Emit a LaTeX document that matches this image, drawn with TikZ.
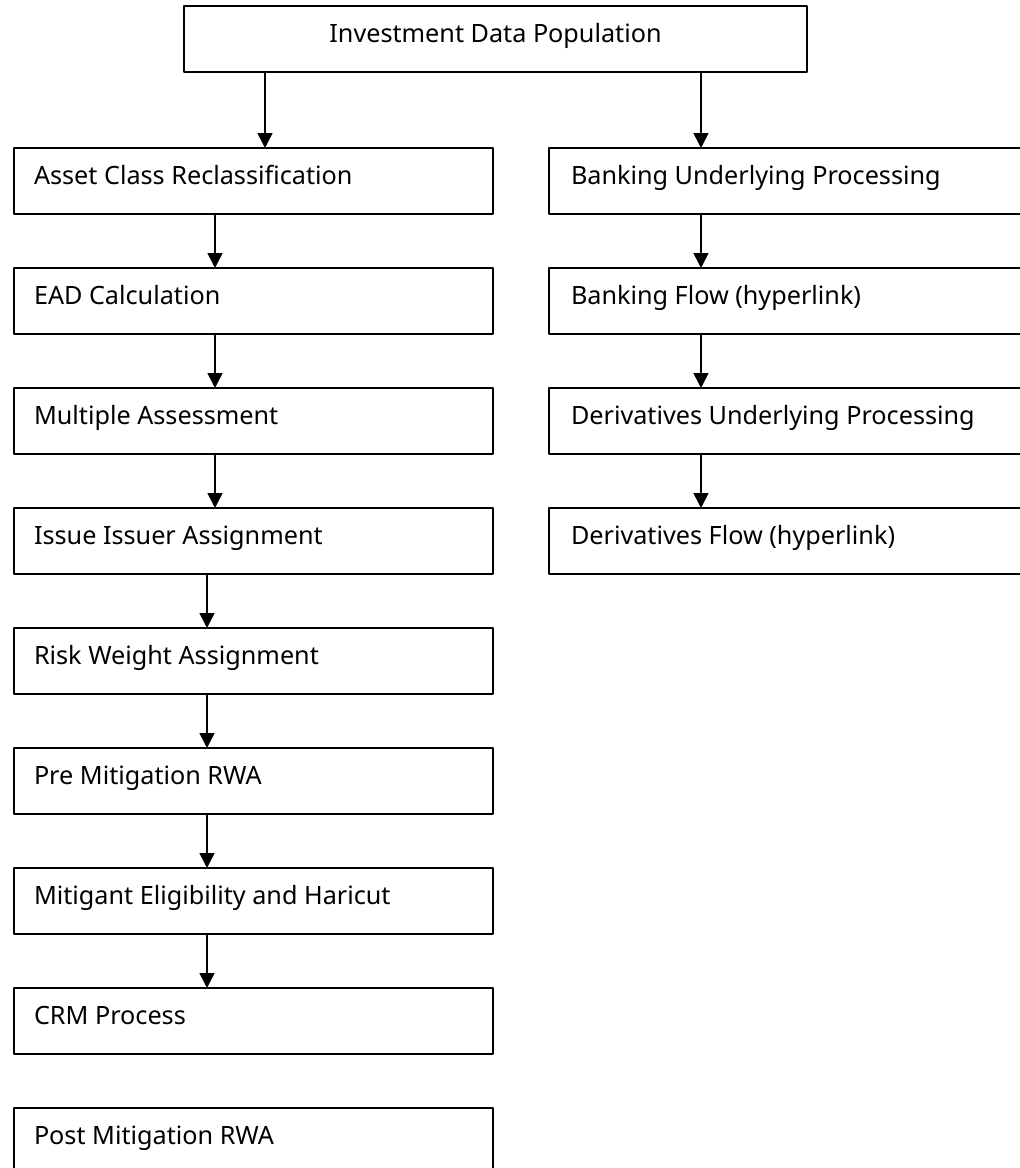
\documentclass[tikz,border=0pt]{standalone}
\usepackage{fontspec}
\setmainfont{Noto Sans}
\usetikzlibrary{positioning,arrows.meta}
\begin{document}
\begin{tikzpicture}[x=0.5pt, y=-0.5pt, font=\fontsize{12.6}{15}\selectfont, line join=round, line width=0.8pt,
		>={Triangle[width=7.5pt,length=7.5pt]}, node distance=27pt,
		box/.style={draw, rectangle, anchor=north west, outer sep=0pt, inner ysep=0pt, minimum height=33pt,
			text height=0.6em, text depth=0.24em},
		lbox/.style={box, align=flush left, inner xsep=10pt, text width=219.5pt},
		rbox/.style={box, align=flush left, inner xsep=11pt, text width=228.5pt}]
	\useasboundingbox (0,0) rectangle (1020,1168);
	\clip (0,0) rectangle (1020,1168);
	% top
	\node[box, minimum width=311.5pt, align=center] (inv) at (184,6) {Investment Data Population};
	% left column
	\node[lbox] (acr) at (14,148) {Asset Class Reclassification};
	\node[lbox, below=of acr] (ead) {EAD Calculation};
	\node[lbox, below=of ead] (mas) {Multiple Assessment};
	\node[lbox, below=of mas] (iia) {Issue Issuer Assignment};
	\node[lbox, below=of iia] (rwa) {Risk Weight Assignment};
	\node[lbox, below=of rwa] (pre) {Pre Mitigation RWA};
	\node[lbox, below=of pre] (meh) {Mitigant Eligibility and Haricut};
	\node[lbox, below=of meh] (crm) {CRM Process};
	\node[lbox, below=of crm] (post) {Post Mitigation RWA};
	% right column
	\node[rbox] (bup) at (549,148) {Banking Underlying Processing};
	\node[rbox, below=of bup] (bfl) {Banking Flow (hyperlink)};
	\node[rbox, below=of bfl] (dup) {Derivatives Underlying Processing};
	\node[rbox, below=of dup] (dfl) {Derivatives Flow (hyperlink)};
	% arrows
	\draw[->] ([xshift=40.5pt]inv.south west) -- ([xshift=40.5pt]inv.south west |- acr.north);
	\draw[->] ([xshift=-53pt]inv.south east) -- ([xshift=-53pt]inv.south east |- bup.north);
	\foreach \a/\b in {acr/ead, ead/mas, mas/iia}
		\draw[->] ([xshift=100.5pt]\a.south west) -- ([xshift=100.5pt]\b.north west);
	\foreach \a/\b in {iia/rwa, rwa/pre, pre/meh, meh/crm}
		\draw[->] ([xshift=96.5pt]\a.south west) -- ([xshift=96.5pt]\b.north west);
	\foreach \a/\b in {bup/bfl, bfl/dup, dup/dfl}
		\draw[->] ([xshift=76pt]\a.south west) -- ([xshift=76pt]\b.north west);
\end{tikzpicture}
\end{document}
